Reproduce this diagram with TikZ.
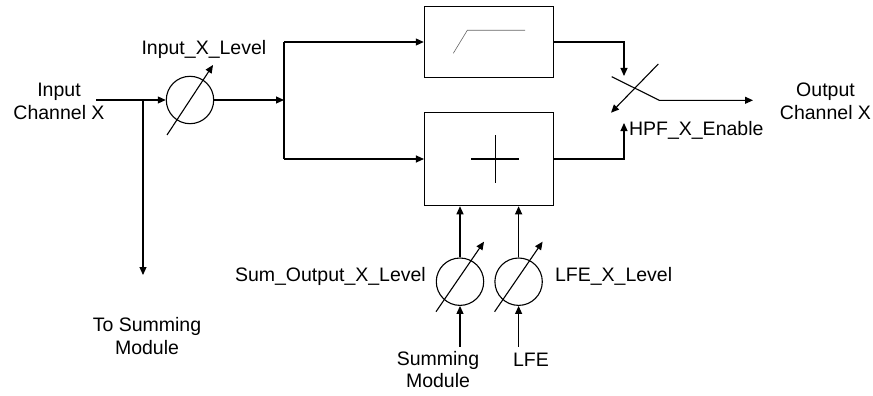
\documentclass[tikz,border=0pt]{standalone}
\usepackage{fontspec}
\setmainfont{Liberation Sans}
\usetikzlibrary{arrows.meta}
\begin{document}
\begin{tikzpicture}[x=1pt,y=-1pt,
  line width=1.1pt,
  sig/.style={-{Triangle[length=8pt,width=7pt]}},
  blk/.style={draw,rectangle,inner sep=0pt},
  lvl/.style={draw,circle,minimum size=47.4pt,inner sep=0pt},
  lbl/.style={inner sep=0pt,font=\fontsize{19.5}{22.5}\selectfont},
  mlbl/.style={lbl,align=center,anchor=south}]
\useasboundingbox (0,0) rectangle (873,396);
% blocks
\node[blk,minimum width=129.4pt,minimum height=70.6pt] (hpf) at (489,42) {};
\node[blk,minimum width=129pt,minimum height=93.4pt] (sum) at (489,159) {};
\node[lvl] (lin) at (190,100) {};
\node[lvl] (lsum) at (460,281.7) {};
\node[lvl] (llfe) at (518.6,281.7) {};
% block symbols
\draw[line width=0.6pt,gray!80!black] (453.3,53.3) -- (467.3,30.3) -- (525,30.3);
\draw (471,159) -- (519,159) (495.3,135) -- (495.3,183);
% level arrows
\draw[sig] ([shift={(-23,35)}]lin.center) -- ([shift={(23,-35)}]lin.center);
\draw[sig] ([shift={(-24,30)}]lsum.center) -- ([shift={(24,-40)}]lsum.center);
\draw[sig] ([shift={(-24,30)}]llfe.center) -- ([shift={(24,-40)}]llfe.center);
% coordinates
\coordinate (in) at (96,100);
\coordinate (tap) at (143,100);
\coordinate (tosum) at (143,275);
\coordinate (split) at (284,100);
\coordinate (sa) at (624,76);
\coordinate (sb) at (624,123);
\coordinate (swa) at (611.7,76.7);
\coordinate (swb) at (659.3,100.3);
\coordinate (out) at (753,100.3);
\coordinate (swc) at (658.3,64);
\coordinate (swd) at (611,112.7);
\coordinate (insum) at (460,346.7);
\coordinate (inlfe) at (518.6,346.7);
% connectors
\draw[sig] (in) -- (lin.west);
\draw[sig] (tap) -- (tosum);
\draw[sig] (lin.east) -- (split);
\draw[sig] (split |- hpf.west) -- (hpf.west);
\draw (split |- hpf.west) -- (split |- sum.west);
\draw[sig] (split |- sum.west) -- (sum.west);
\draw[sig] (hpf.east) -- (sa |- hpf.east) -- (sa);
\draw[sig] (sum.east) -- (sb |- sum.east) -- (sb);
\draw[sig] (swa) -- (swb) -- (out);
\draw[sig] (swc) -- (swd);
\draw[sig] (lsum.north) -- (lsum |- sum.south);
\draw[sig] (llfe.north) -- (llfe |- sum.south);
\draw[sig] (insum) -- (lsum.south);
\draw[sig] (inlfe) -- (llfe.south);
% labels
\node[mlbl] (tin) at (59,120) {Input\\Channel X};
\node[lbl,anchor=base west] (tinl) at (141,54.3) {Input\_X\_Level};
\node[lbl,anchor=base west] (thpf) at (628.5,135) {HPF\_X\_Enable};
\node[mlbl] (tout) at (825.5,120) {Output\\Channel X};
\node[mlbl] (tts) at (147,355) {To Summing\\Module};
\node[lbl,anchor=base west] (tsl) at (234.5,281) {Sum\_Output\_X\_Level};
\node[lbl,anchor=base west] (tll) at (554.5,281.7) {LFE\_X\_Level};
\node[mlbl] (tsm) at (438,388.3) {Summing\\Module};
\node[lbl,anchor=base] (tlfe) at (531,366.7) {LFE};
\end{tikzpicture}
\end{document}
